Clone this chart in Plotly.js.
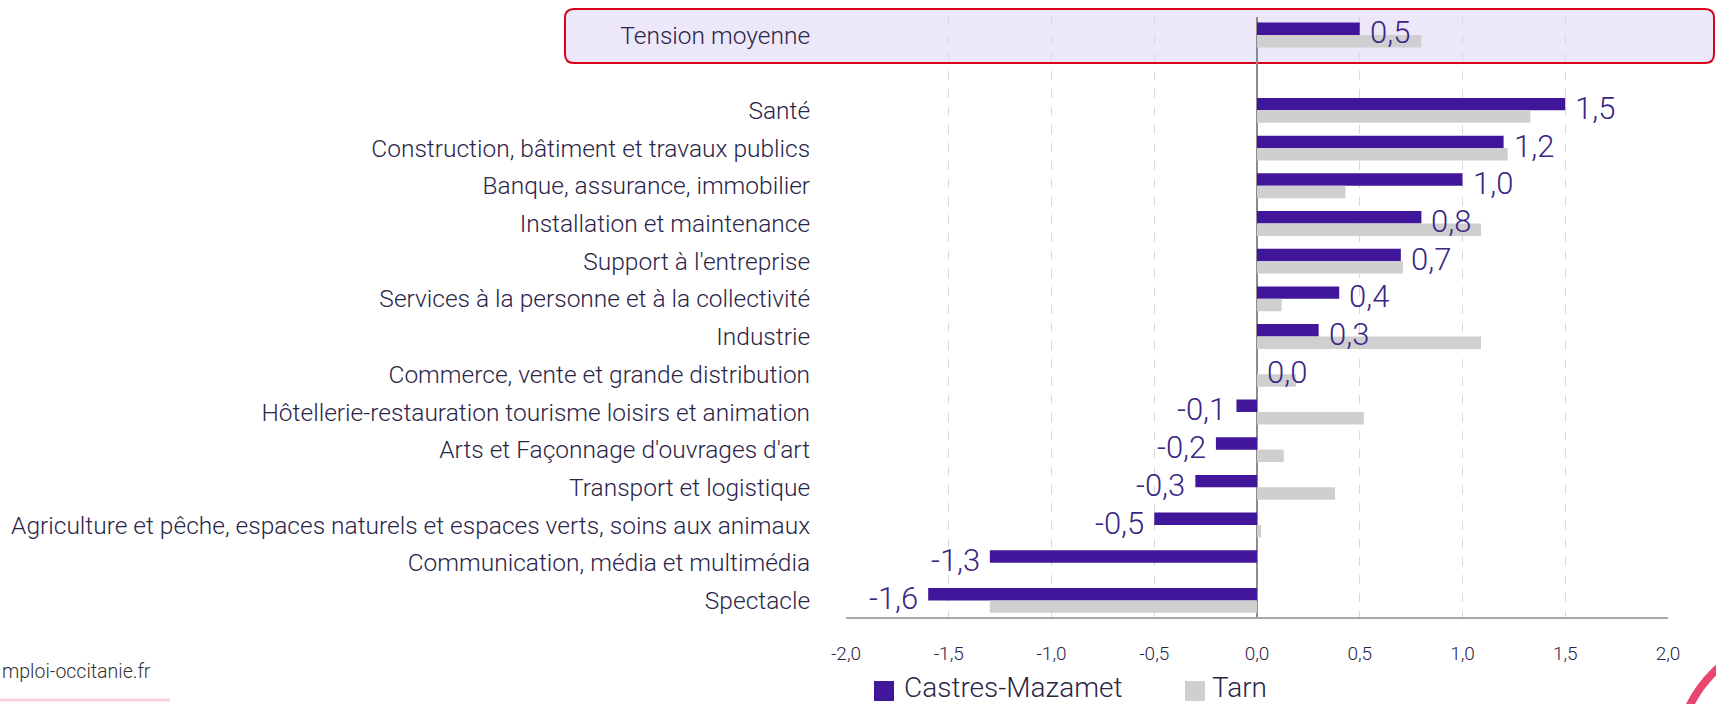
<!DOCTYPE html>
<html>
<head>
<meta charset="utf-8">
<script src="https://cdn.plot.ly/plotly-3.0.1.min.js"></script>
<style>
html,body{margin:0;padding:0;background:#fff;}
#chart{width:1716px;height:704px;}
</style>
</head>
<body>
<div id="chart"></div>
<script>
// ---- data ----
const categories = [
  'Tension moyenne',
  'Santé',
  'Construction, bâtiment et travaux publics',
  'Banque, assurance, immobilier',
  'Installation et maintenance',
  "Support à l'entreprise",
  'Services à la personne et à la collectivité',
  'Industrie',
  'Commerce, vente et grande distribution',
  'Hôtellerie-restauration tourisme loisirs et animation',
  "Arts et Façonnage d'ouvrages d'art",
  'Transport et logistique',
  'Agriculture et pêche, espaces naturels et espaces verts, soins aux animaux',
  'Communication, média et multimédia',
  'Spectacle'
];
const castresMazamet = [0.5, 1.5, 1.2, 1.0, 0.8, 0.7, 0.4, 0.3, 0.0, -0.1, -0.2, -0.3, -0.5, -1.3, -1.6];
const tarn = [0.80, 1.33, 1.22, 0.43, 1.09, 0.71, 0.12, 1.09, 0.19, 0.52, 0.13, 0.38, 0.02, 0, -1.30];
const seriesNames = ['Castres-Mazamet', 'Tarn'];
const xTickVals = [-2, -1.5, -1, -0.5, 0, 0.5, 1, 1.5, 2];
const xTickText = ['-2,0', '-1,5', '-1,0', '-0,5', '0,0', '0,5', '1,0', '1,5', '2,0'];
const sourceText = 'mploi-occitanie.fr';

// ---- layout helpers ----
const W = 1716, H = 704;
const M = {l: 846, r: 48, t: 17, b: 87};
const PW = W - M.l - M.r, PH = H - M.t - M.b;
const px = x => (x - M.l) / PW;
const py = y => 1 - (y - M.t) / PH;

// first row (Tension moyenne) separated from the rest by one empty row
const rows = categories.map((c, i) => i === 0 ? 0 : i + 1);

const PURPLE = '#40169b';
const GREY = '#d0cfcf';
const FONT = 'Roboto, "Liberation Sans", sans-serif';

const traces = [
  {type: 'bar', orientation: 'h', name: seriesNames[0], x: castresMazamet, y: rows,
   marker: {color: PURPLE}, showlegend: false, hoverinfo: 'x'},
  {type: 'bar', orientation: 'h', name: seriesNames[1], x: tarn, y: rows,
   marker: {color: GREY}, showlegend: false, hoverinfo: 'x'}
];

const fmt = v => v.toFixed(1).replace('.', ',');
const annotations = castresMazamet.map((v, i) => ({
  x: v, y: rows[i], xref: 'x', yref: 'y',
  text: fmt(v), showarrow: false,
  xanchor: v >= 0 ? 'left' : 'right',
  xshift: v >= 0 ? 8 : -8, yshift: 2,
  font: {family: FONT, size: 31, color: '#3a2585', weight: 300}
}));

// legend (manual, larger squares)
const legendItems = [
  {name: seriesNames[0], color: PURPLE, sq: 874, tx: 902},
  {name: seriesNames[1], color: GREY, sq: 1185, tx: 1210}
];
const shapes = [];
legendItems.forEach(it => {
  shapes.push({type: 'rect', xref: 'paper', yref: 'paper',
    x0: px(it.sq), x1: px(it.sq + 20), y0: py(701), y1: py(681),
    fillcolor: it.color, line: {width: 0}});
  annotations.push({xref: 'paper', yref: 'paper', x: px(it.tx), y: py(687),
    xanchor: 'left', yanchor: 'middle', showarrow: false, text: it.name,
    font: {family: FONT, size: 28, color: '#2b2548', weight: 300}});
});

// highlighted box around the "Tension moyenne" row
(function(){
  const x0 = 565, x1 = 1714, y0 = 9, y1 = 63, r = 9;
  const P = (x, y) => px(x) + ',' + py(y);
  const path = 'M' + P(x0 + r, y0) + ' L' + P(x1 - r, y0) + ' Q' + P(x1, y0) + ' ' + P(x1, y0 + r) +
    ' L' + P(x1, y1 - r) + ' Q' + P(x1, y1) + ' ' + P(x1 - r, y1) +
    ' L' + P(x0 + r, y1) + ' Q' + P(x0, y1) + ' ' + P(x0, y1 - r) +
    ' L' + P(x0, y0 + r) + ' Q' + P(x0, y0) + ' ' + P(x0 + r, y0) + ' Z';
  shapes.push({type: 'path', xref: 'paper', yref: 'paper', path: path,
    fillcolor: '#ede7fa', line: {color: '#d7001d', width: 2}, layer: 'below'});
})();

// footer decorations
shapes.push({type: 'line', xref: 'paper', yref: 'paper', x0: px(0), x1: px(170), y0: py(700), y1: py(700),
  line: {color: '#f6d3dc', width: 3}});
shapes.push({type: 'circle', xref: 'paper', yref: 'paper', x0: px(1677), x1: px(1923), y0: py(883), y1: py(637),
  line: {color: '#e8466f', width: 8}});
annotations.push({xref: 'paper', yref: 'paper', x: px(0), y: py(672), xanchor: 'left', yanchor: 'middle',
  showarrow: false, text: sourceText, font: {family: FONT, size: 19.5, color: '#333333', weight: 300}});

const layout = {
  width: W, height: H,
  margin: M,
  paper_bgcolor: '#ffffff',
  plot_bgcolor: 'rgba(0,0,0,0)',
  barmode: 'group', bargap: 0.34, bargroupgap: 0,
  showlegend: false,
  font: {family: FONT, color: '#2b2548'},
  xaxis: {
    range: [-2, 2], tickvals: xTickVals, ticktext: xTickText,
    showgrid: true, gridcolor: '#d9d9d9', gridwidth: 1, griddash: 'dash',
    zeroline: true, zerolinecolor: '#8c8c8c', zerolinewidth: 2,
    showline: true, linecolor: '#a8a8a8', linewidth: 2,
    ticks: 'outside', ticklen: 18, tickcolor: 'rgba(0,0,0,0)',
    tickfont: {family: FONT, size: 19, color: '#2b2548', weight: 300},
    fixedrange: true
  },
  yaxis: {
    range: [15.44, -0.477], tickvals: rows, ticktext: categories,
    showgrid: false, zeroline: false, showline: false,
    ticks: 'outside', ticklen: 30, tickcolor: 'rgba(0,0,0,0)',
    tickfont: {family: FONT, size: 24.5, color: '#2b2548', weight: 300},
    fixedrange: true
  },
  shapes: shapes,
  annotations: annotations
};

Plotly.newPlot('chart', traces, layout, {displayModeBar: false, staticPlot: true});
</script>
</body>
</html>
